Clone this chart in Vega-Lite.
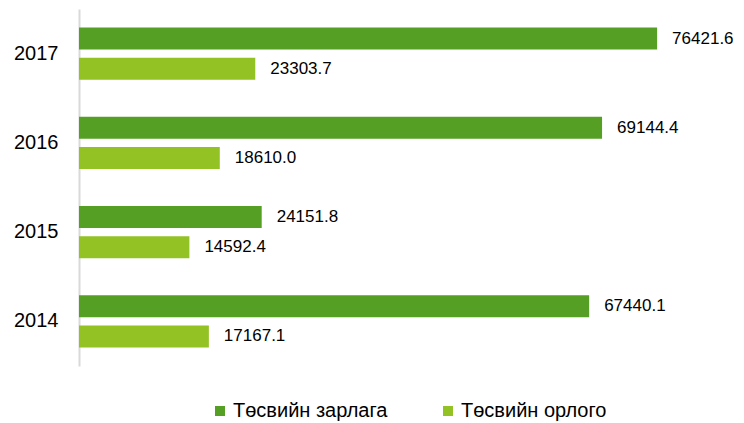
{
  "$schema": "https://vega.github.io/schema/vega-lite/v6.json",
  "width": 643,
  "height": 357,
  "autosize": {"type": "none"},
  "padding": {"left": 79, "top": 9, "right": 22, "bottom": 57},
  "background": "white",
  "config": {"view": {"stroke": null}, "font": "Liberation Sans"},
  "data": {
    "values": [
      {"year": "2017", "series": "Төсвийн зарлага", "value": 76421.6},
      {"year": "2017", "series": "Төсвийн орлого", "value": 23303.7},
      {"year": "2016", "series": "Төсвийн зарлага", "value": 69144.4},
      {"year": "2016", "series": "Төсвийн орлого", "value": 18610.0},
      {"year": "2015", "series": "Төсвийн зарлага", "value": 24151.8},
      {"year": "2015", "series": "Төсвийн орлого", "value": 14592.4},
      {"year": "2014", "series": "Төсвийн зарлага", "value": 67440.1},
      {"year": "2014", "series": "Төсвийн орлого", "value": 17167.1}
    ]
  },
  "encoding": {
    "y": {
      "field": "year",
      "type": "nominal",
      "sort": ["2017", "2016", "2015", "2014"],
      "scale": {"paddingInner": 0, "paddingOuter": 0},
      "axis": {
        "title": null,
        "ticks": false,
        "domainColor": "#D9D9D9",
        "domainWidth": 2,
        "labelFontSize": 20,
        "labelColor": "#000000",
        "labelPadding": 21,
        "labelAngle": 0
      }
    },
    "yOffset": {
      "field": "series",
      "sort": ["Төсвийн зарлага", "Төсвийн орлого"],
      "scale": {"paddingInner": 0.267, "paddingOuter": 0.617}
    },
    "x": {
      "field": "value",
      "type": "quantitative",
      "scale": {"domain": [0, 85000], "nice": false},
      "axis": null
    }
  },
  "layer": [
    {
      "mark": {"type": "bar"},
      "encoding": {
        "color": {
          "field": "series",
          "type": "nominal",
          "sort": ["Төсвийн зарлага", "Төсвийн орлого"],
          "scale": {"domain": ["Төсвийн зарлага", "Төсвийн орлого"], "range": ["#55A024", "#93C225"]},
          "legend": {
            "orient": "none",
            "direction": "horizontal",
            "legendX": 131,
            "legendY": 392,
            "title": null,
            "symbolType": "square",
            "symbolSize": 100,
            "symbolStrokeWidth": 0,
            "labelFontSize": 20,
            "labelColor": "#000000",
            "labelOffset": 3,
            "columnPadding": 50
          }
        }
      }
    },
    {
      "mark": {"type": "text", "align": "left", "baseline": "middle", "dx": 15, "fontSize": 17, "color": "#000000"},
      "encoding": {
        "text": {"field": "value", "type": "quantitative", "format": ".1f"}
      }
    }
  ]
}
